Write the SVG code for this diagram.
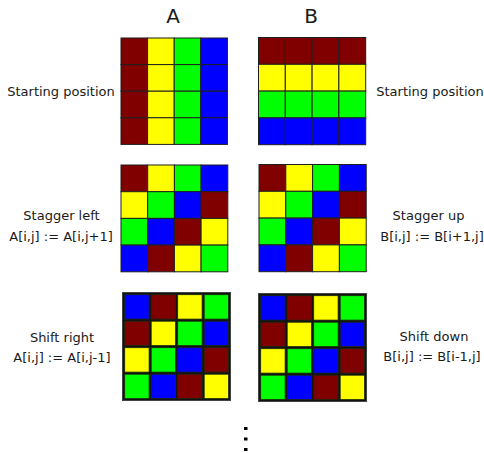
<svg xmlns="http://www.w3.org/2000/svg" width="484" height="453" viewBox="0 0 484 453">
<style>
text{font-family:"DejaVu Sans","Liberation Sans",sans-serif;font-size:13px;fill:#1a1a1a;text-anchor:middle}
.h{font-size:20px}
.c rect{stroke:#1e1e1e;stroke-width:1}
.s rect{stroke:#1c2a10;stroke-width:0.8}
.s rect.bg{fill:#111;stroke:#444;stroke-width:1}
.m{fill:#800000}.y{fill:#ffff00}.g{fill:#00ff00}.b{fill:#0000ff}
.dot{fill:#000}
</style>
<g id="headers">
<text class="h" x="173" y="23">A</text>
<text class="h" x="311" y="23">B</text>
</g>
<g id="labels">
<text x="61" y="96">Starting position</text>
<text x="430" y="96">Starting position</text>
<text x="61.5" y="220">Stagger left</text>
<text x="61" y="241">A[i,j] := A[i,j+1]</text>
<text x="428.5" y="220">Stagger up</text>
<text x="432" y="241">B[i,j] := B[i+1,j]</text>
<text x="62" y="342">Shift right</text>
<text x="62" y="362">A[i,j] := A[i,j-1]</text>
<text x="434" y="341">Shift down</text>
<text x="432" y="361">B[i,j] := B[i-1,j]</text>
</g>
<g id="gridA1" class="c" transform="translate(121,38)">
<rect class="m" x="0" y="0" width="26.6" height="26.6"/><rect class="y" x="26.6" y="0" width="26.6" height="26.6"/><rect class="g" x="53.2" y="0" width="26.6" height="26.6"/><rect class="b" x="79.8" y="0" width="26.6" height="26.6"/>
<rect class="m" x="0" y="26.6" width="26.6" height="26.6"/><rect class="y" x="26.6" y="26.6" width="26.6" height="26.6"/><rect class="g" x="53.2" y="26.6" width="26.6" height="26.6"/><rect class="b" x="79.8" y="26.6" width="26.6" height="26.6"/>
<rect class="m" x="0" y="53.2" width="26.6" height="26.6"/><rect class="y" x="26.6" y="53.2" width="26.6" height="26.6"/><rect class="g" x="53.2" y="53.2" width="26.6" height="26.6"/><rect class="b" x="79.8" y="53.2" width="26.6" height="26.6"/>
<rect class="m" x="0" y="79.8" width="26.6" height="26.6"/><rect class="y" x="26.6" y="79.8" width="26.6" height="26.6"/><rect class="g" x="53.2" y="79.8" width="26.6" height="26.6"/><rect class="b" x="79.8" y="79.8" width="26.6" height="26.6"/>
</g>
<g id="gridB1" class="c" transform="translate(258.5,37.5)">
<rect class="m" x="0" y="0" width="26.8" height="26.8"/><rect class="m" x="26.8" y="0" width="26.8" height="26.8"/><rect class="m" x="53.6" y="0" width="26.8" height="26.8"/><rect class="m" x="80.4" y="0" width="26.8" height="26.8"/>
<rect class="y" x="0" y="26.8" width="26.8" height="26.8"/><rect class="y" x="26.8" y="26.8" width="26.8" height="26.8"/><rect class="y" x="53.6" y="26.8" width="26.8" height="26.8"/><rect class="y" x="80.4" y="26.8" width="26.8" height="26.8"/>
<rect class="g" x="0" y="53.6" width="26.8" height="26.8"/><rect class="g" x="26.8" y="53.6" width="26.8" height="26.8"/><rect class="g" x="53.6" y="53.6" width="26.8" height="26.8"/><rect class="g" x="80.4" y="53.6" width="26.8" height="26.8"/>
<rect class="b" x="0" y="80.4" width="26.8" height="26.8"/><rect class="b" x="26.8" y="80.4" width="26.8" height="26.8"/><rect class="b" x="53.6" y="80.4" width="26.8" height="26.8"/><rect class="b" x="80.4" y="80.4" width="26.8" height="26.8"/>
</g>
<g id="gridA2" class="c" transform="translate(121,165)">
<rect class="m" x="0" y="0" width="26.7" height="26.7"/><rect class="y" x="26.7" y="0" width="26.7" height="26.7"/><rect class="g" x="53.4" y="0" width="26.7" height="26.7"/><rect class="b" x="80.1" y="0" width="26.7" height="26.7"/>
<rect class="y" x="0" y="26.7" width="26.7" height="26.7"/><rect class="g" x="26.7" y="26.7" width="26.7" height="26.7"/><rect class="b" x="53.4" y="26.7" width="26.7" height="26.7"/><rect class="m" x="80.1" y="26.7" width="26.7" height="26.7"/>
<rect class="g" x="0" y="53.4" width="26.7" height="26.7"/><rect class="b" x="26.7" y="53.4" width="26.7" height="26.7"/><rect class="m" x="53.4" y="53.4" width="26.7" height="26.7"/><rect class="y" x="80.1" y="53.4" width="26.7" height="26.7"/>
<rect class="b" x="0" y="80.1" width="26.7" height="26.7"/><rect class="m" x="26.7" y="80.1" width="26.7" height="26.7"/><rect class="y" x="53.4" y="80.1" width="26.7" height="26.7"/><rect class="g" x="80.1" y="80.1" width="26.7" height="26.7"/>
</g>
<g id="gridB2" class="c" transform="translate(259,164.5)">
<rect class="m" x="0" y="0" width="26.8" height="26.8"/><rect class="y" x="26.8" y="0" width="26.8" height="26.8"/><rect class="g" x="53.6" y="0" width="26.8" height="26.8"/><rect class="b" x="80.4" y="0" width="26.8" height="26.8"/>
<rect class="y" x="0" y="26.8" width="26.8" height="26.8"/><rect class="g" x="26.8" y="26.8" width="26.8" height="26.8"/><rect class="b" x="53.6" y="26.8" width="26.8" height="26.8"/><rect class="m" x="80.4" y="26.8" width="26.8" height="26.8"/>
<rect class="g" x="0" y="53.6" width="26.8" height="26.8"/><rect class="b" x="26.8" y="53.6" width="26.8" height="26.8"/><rect class="m" x="53.6" y="53.6" width="26.8" height="26.8"/><rect class="y" x="80.4" y="53.6" width="26.8" height="26.8"/>
<rect class="b" x="0" y="80.4" width="26.8" height="26.8"/><rect class="m" x="26.8" y="80.4" width="26.8" height="26.8"/><rect class="y" x="53.6" y="80.4" width="26.8" height="26.8"/><rect class="g" x="80.4" y="80.4" width="26.8" height="26.8"/>
</g>
<g id="gridA3" class="s" transform="translate(122.5,292.5)">
<rect class="bg" x="0" y="0" width="108" height="108"/>
<rect class="b" x="2.2" y="2.2" width="24.4" height="24.4"/><rect class="m" x="28.7" y="2.2" width="24.4" height="24.4"/><rect class="y" x="55.2" y="2.2" width="24.4" height="24.4"/><rect class="g" x="81.7" y="2.2" width="24.4" height="24.4"/>
<rect class="m" x="2.2" y="28.7" width="24.4" height="24.4"/><rect class="y" x="28.7" y="28.7" width="24.4" height="24.4"/><rect class="g" x="55.2" y="28.7" width="24.4" height="24.4"/><rect class="b" x="81.7" y="28.7" width="24.4" height="24.4"/>
<rect class="y" x="2.2" y="55.2" width="24.4" height="24.4"/><rect class="g" x="28.7" y="55.2" width="24.4" height="24.4"/><rect class="b" x="55.2" y="55.2" width="24.4" height="24.4"/><rect class="m" x="81.7" y="55.2" width="24.4" height="24.4"/>
<rect class="g" x="2.2" y="81.7" width="24.4" height="24.4"/><rect class="b" x="28.7" y="81.7" width="24.4" height="24.4"/><rect class="m" x="55.2" y="81.7" width="24.4" height="24.4"/><rect class="y" x="81.7" y="81.7" width="24.4" height="24.4"/>
</g>
<g id="gridB3" class="s" transform="translate(258.5,293.5)">
<rect class="bg" x="0" y="0" width="108" height="108"/>
<rect class="b" x="2.2" y="2.2" width="24.4" height="24.4"/><rect class="m" x="28.7" y="2.2" width="24.4" height="24.4"/><rect class="y" x="55.2" y="2.2" width="24.4" height="24.4"/><rect class="g" x="81.7" y="2.2" width="24.4" height="24.4"/>
<rect class="m" x="2.2" y="28.7" width="24.4" height="24.4"/><rect class="y" x="28.7" y="28.7" width="24.4" height="24.4"/><rect class="g" x="55.2" y="28.7" width="24.4" height="24.4"/><rect class="b" x="81.7" y="28.7" width="24.4" height="24.4"/>
<rect class="y" x="2.2" y="55.2" width="24.4" height="24.4"/><rect class="g" x="28.7" y="55.2" width="24.4" height="24.4"/><rect class="b" x="55.2" y="55.2" width="24.4" height="24.4"/><rect class="m" x="81.7" y="55.2" width="24.4" height="24.4"/>
<rect class="g" x="2.2" y="81.7" width="24.4" height="24.4"/><rect class="b" x="28.7" y="81.7" width="24.4" height="24.4"/><rect class="m" x="55.2" y="81.7" width="24.4" height="24.4"/><rect class="y" x="81.7" y="81.7" width="24.4" height="24.4"/>
</g>
<g id="ellipsis">
<rect class="dot" x="244" y="427" width="3.5" height="3"/>
<rect class="dot" x="244" y="437.5" width="3.5" height="3"/>
<rect class="dot" x="244" y="448" width="3.5" height="3"/>
</g>
<g id="connectors"/>
</svg>
